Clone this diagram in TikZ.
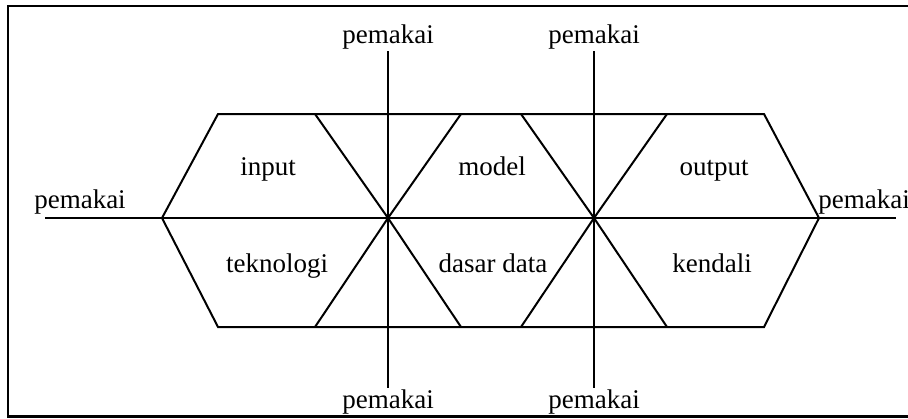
\documentclass[tikz,border=0pt]{standalone}
\usepackage{fontspec}
\setmainfont{Liberation Serif}
\begin{document}
\begin{tikzpicture}[x=0.5pt,y=-0.5pt,line width=1pt,
	lbl/.style={font=\fontsize{13.5}{16}\selectfont, inner sep=0.5pt}]
	\useasboundingbox (0,0) rectangle (908,418);
	% frame (right side runs off the page)
	\draw[line width=1.3pt] (908,6) -- (8,6) -- (8,416.5) -- (908,416.5);
	% hexagon
	\coordinate (left) at (162,218);
	\coordinate (right) at (819,218);
	\coordinate (tl) at (218,114);
	\coordinate (tr) at (764,114);
	\coordinate (br) at (764,327);
	\coordinate (bl) at (218,327);
	\draw (left) -- (tl) -- (tr) -- (right) -- (br) -- (bl) -- cycle;
	% the two hubs and their spokes
	\coordinate (h1) at (388,218);
	\coordinate (h2) at (594,218);
	\coordinate (a1) at (315,114);
	\coordinate (b1) at (461,114);
	\coordinate (c1) at (315,327);
	\coordinate (d1) at (461,327);
	\coordinate (a2) at (521,114);
	\coordinate (b2) at (667,114);
	\coordinate (c2) at (521,327);
	\coordinate (d2) at (667,327);
	\draw (a1) -- (h1) -- (b1);
	\draw (c1) -- (h1) -- (d1);
	\draw (a2) -- (h2) -- (b2);
	\draw (c2) -- (h2) -- (d2);
	% users
	\node[lbl, anchor=south] (ut1) at (388,51) {pemakai};
	\node[lbl, anchor=south] (ut2) at (594,51) {pemakai};
	\node[lbl, anchor=north] (ub1) at (388,388) {pemakai};
	\node[lbl, anchor=north] (ub2) at (594,388) {pemakai};
	\node[lbl, anchor=base] (ul) at (80,208) {pemakai};
	\node[lbl, anchor=base] (ur) at (864,208) {pemakai};
	\coordinate (lend) at (45,218);
	\coordinate (rend) at (896,218);
	\draw (lend) -- (rend);
	\draw (ut1.south) -- (h1) -- (ub1.north);
	\draw (ut2.south) -- (h2) -- (ub2.north);
	% blocks
	\node[lbl, anchor=base] (inp) at (268,175) {input};
	\node[lbl, anchor=base] (mdl) at (492,175) {model};
	\node[lbl, anchor=base] (outp) at (714,175) {output};
	\node[lbl, anchor=base] (tek) at (277,272) {teknologi};
	\node[lbl, anchor=base] (dsr) at (493,272) {dasar data};
	\node[lbl, anchor=base] (knd) at (712,272) {kendali};
\end{tikzpicture}
\end{document}
